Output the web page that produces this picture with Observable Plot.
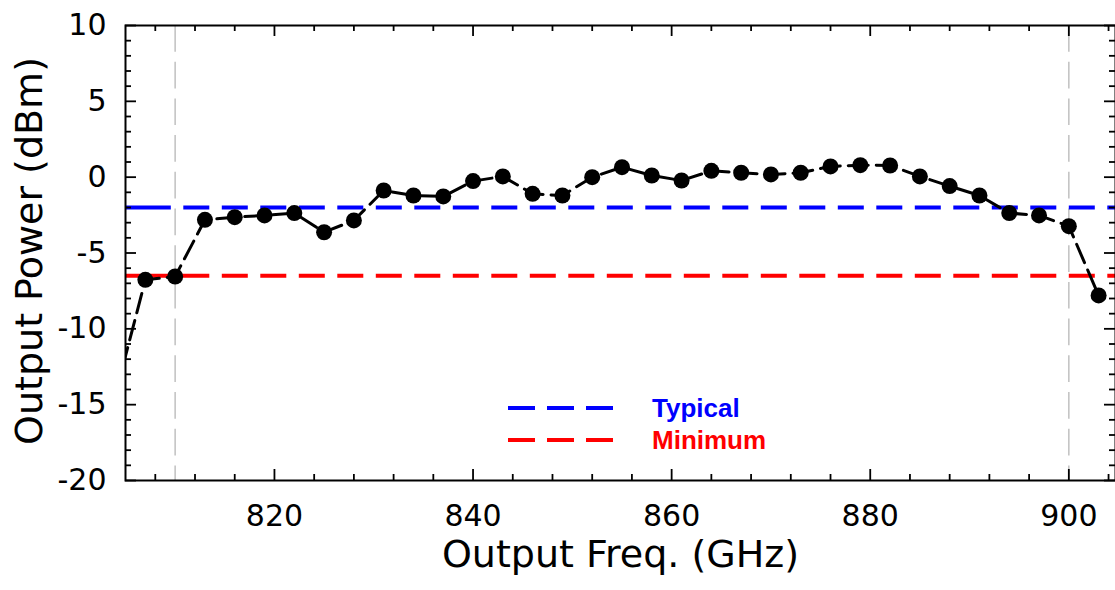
<!DOCTYPE html>
<html>
<head>
<meta charset="utf-8">
<script src="https://cdn.jsdelivr.net/npm/d3@7"></script>
<script src="https://cdn.jsdelivr.net/npm/@observablehq/plot@0.6"></script>
<style>
  html, body { margin: 0; padding: 0; background: #fff; }
  #chart { position: relative; width: 1115px; height: 590px; }
</style>
</head>
<body>
<div id="chart"></div>
<script>
// Measured output power of the multiplier chain, sampled every 3 GHz.
const freqGHz = [804, 807, 810, 813, 816, 819, 822, 825, 828, 831, 834, 837, 840, 843, 846, 849, 852,
                 855, 858, 861, 864, 867, 870, 873, 876, 879, 882, 885, 888, 891, 894, 897, 900, 903];
const powerDBm = [-14.3, -6.77, -6.55, -2.81, -2.64, -2.52, -2.37, -3.63, -2.85, -0.88, -1.21, -1.27, -0.26, 0.05, -1.10, -1.21, 0.00,
                  0.66, 0.11, -0.22, 0.42, 0.29, 0.18, 0.29, 0.71, 0.79, 0.77, 0.05, -0.59, -1.21, -2.37, -2.52, -3.23, -7.80];

// Specification levels and band edges
const specTypical = -2;
const specMinimum = -6.5;
const bandEdgesGHz = [810, 900];

// Axis tick labels
const xTickLabels = [820, 840, 860, 880, 900];
const yTickLabels = [-20, -15, -10, -5, 0, 5, 10];

// Legend entries
const legendLabels = ["Typical", "Minimum"];
const legendColors = ["#0000ff", "#ff0000"];

const data = freqGHz.map((f, i) => ({f, p: powerDBm[i]}));

const W = 1115, H = 590;
const M = {top: 25, right: 0, bottom: 110, left: 125};
const frameW = W - M.left - M.right;
const frameH = H - M.top - M.bottom;
const majorLen = 11, minorLen = 6;
const tickW = 1.8;

const xMinor = d3.range(808, 905, 4).filter(v => !xTickLabels.includes(v));
const yMinor = d3.range(-19, 10, 1).filter(v => !yTickLabels.includes(v));

// Inward tick marks on all four sides of the frame
function xTickMarks(values, len) {
  return [
    Plot.ruleX(values, {x: d => d, stroke: "black", strokeWidth: tickW, insetTop: frameH - len}),
    Plot.ruleX(values, {x: d => d, stroke: "black", strokeWidth: tickW, insetBottom: frameH - len})
  ];
}
function yTickMarks(values, len) {
  return [
    Plot.ruleY(values, {y: d => d, stroke: "black", strokeWidth: tickW, insetRight: frameW - len}),
    Plot.ruleY(values, {y: d => d, stroke: "black", strokeWidth: tickW, insetLeft: frameW - len})
  ];
}

// Dash patterns for the specification lines (longer leading segment at the left edge)
function leadDash(first, dash, gap, n) {
  const parts = [first, gap];
  for (let i = 0; i < n; i++) parts.push(dash, gap);
  return parts.join(",");
}

const chart = Plot.plot({
  width: W,
  height: H,
  marginTop: M.top,
  marginRight: M.right,
  marginBottom: M.bottom,
  marginLeft: M.left,
  style: {fontFamily: "DejaVu Sans", color: "black", background: "white"},
  x: {domain: [805, 904.7], axis: null},
  y: {domain: [-20, 10], axis: null},
  marks: [
    Plot.ruleX(bandEdgesGHz, {x: d => d, stroke: "#c4c4c4", strokeWidth: 1.6, strokeDasharray: "26.7,10"}),
    Plot.ruleY([specTypical], {y: d => d, stroke: legendColors[0], strokeWidth: 4,
      strokeDasharray: leadDash(45.8, 26, 12.5, 40)}),
    Plot.ruleY([specMinimum], {y: d => d, stroke: legendColors[1], strokeWidth: 4,
      strokeDasharray: leadDash(84.3, 26, 12.5, 40)}),
    Plot.line(data, {x: "f", y: "p", stroke: "black", strokeWidth: 3, strokeDasharray: "20,8", clip: true}),
    Plot.dot(data, {x: "f", y: "p", r: 8, fill: "black", stroke: "none", clip: true}),
    ...xTickMarks(xTickLabels, majorLen),
    ...xTickMarks(xMinor, minorLen),
    ...yTickMarks(yTickLabels, majorLen),
    ...yTickMarks(yMinor, minorLen),
    Plot.frame({stroke: "black", strokeWidth: 2}),
    Plot.axisX({ticks: xTickLabels, tickSize: 0, tickPadding: 24, fontSize: 30,
      tickFormat: d => String(d), label: null}),
    Plot.axisY({ticks: yTickLabels, tickSize: 0, tickPadding: 19, fontSize: 30,
      tickFormat: d => String(d), label: null}),
    Plot.text(["Output Freq. (GHz)"], {text: d => d, frameAnchor: "bottom", dy: 86,
      lineAnchor: "bottom", textAnchor: "middle", fontSize: 38, fill: "black"}),
    Plot.text(["Output Power (dBm)"], {text: d => d, frameAnchor: "left", dx: -84, dy: -2, rotate: -90,
      lineAnchor: "bottom", textAnchor: "middle", fontSize: 38, fill: "black"})
  ]
});

document.getElementById("chart").appendChild(chart);

// Legend inside the plotting area
const legend = d3.select(chart).append("g").attr("class", "legend");
legendLabels.forEach((label, i) => {
  const cy = 408 + i * 32;
  legend.append("line")
    .attr("x1", 508).attr("x2", 613)
    .attr("y1", cy).attr("y2", cy)
    .attr("stroke", legendColors[i])
    .attr("stroke-width", 4)
    .attr("stroke-dasharray", "27,12");
  legend.append("text")
    .attr("x", 652).attr("y", cy + 9)
    .attr("text-anchor", "start")
    .attr("fill", legendColors[i])
    .attr("font-family", "Liberation Sans, Arial, sans-serif")
    .attr("font-weight", "bold")
    .attr("font-size", 26)
    .text(label);
});
</script>
</body>
</html>
